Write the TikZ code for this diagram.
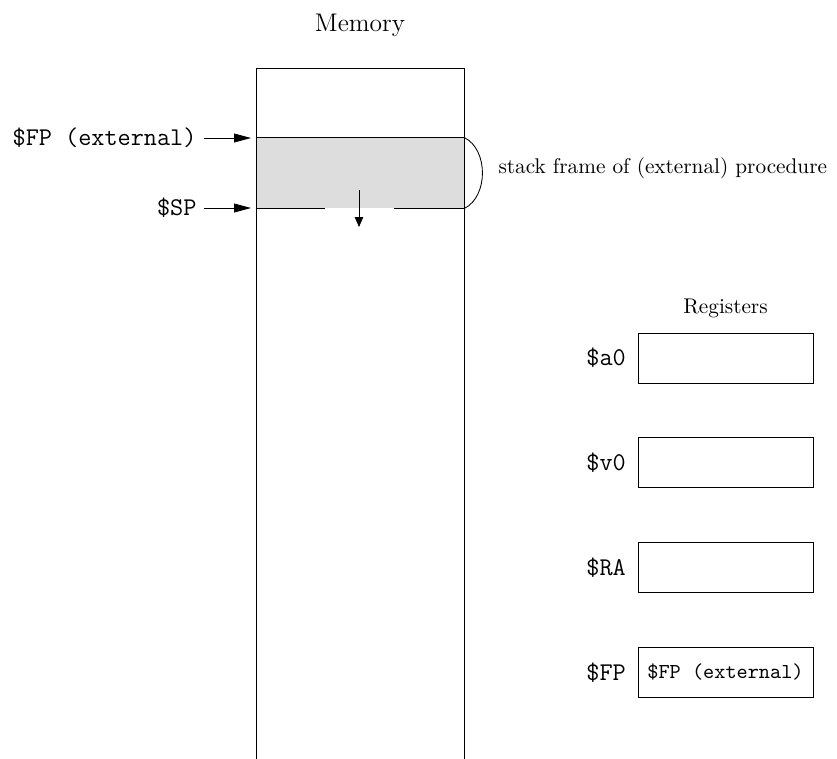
\documentclass[tikz,border=0pt]{standalone}
\usepackage{tikz}
\usetikzlibrary{arrows.meta, positioning}

\begin{document}
\begin{tikzpicture}[
    x=0.4706pt, y=-0.4706pt,
    node distance=25.4pt,
    reg/.style={draw, minimum width=82.4pt, minimum height=23.5pt, inner sep=0pt, font=\ttfamily},
    regname/.style={font=\large\ttfamily},
    ptr/.style={-{Triangle[length=8pt, width=4.2pt]}},
    growarr/.style={-{Triangle[length=4.7pt, width=4pt]}},
]
    \useasboundingbox (0,0) rectangle (837,759);

    % Memory column
    \node[font=\large] (memtitle) at (360,25) {Memory};
    \node[fill=gray!27, minimum width=97.9pt, minimum height=32.9pt, inner sep=0pt] (frame) at (360,173) {};
    \draw (256,759) -- (256,68) -- (464,68) -- (464,759);
    \draw (frame.north west) -- (frame.north east);
    \draw (frame.south west) -- ++(69,0);
    \draw (frame.south east) -- ++(-70,0);
    \coordinate (growtop) at (359,190);
    \coordinate (growend) at (359,227);
    \draw[growarr] (growtop) -- (growend);

    % Stack frame brace
    \draw (frame.north east) .. controls +(24,12) and +(24,-12) .. (frame.south east);
    \node[anchor=west] (framelabel) at (491,168) {stack frame of (external) procedure};

    % Pointers
    \node[regname, anchor=east] (fpext) at (204,138) {\$FP (external)};
    \node[regname, anchor=east] (sp) at (204,208) {\$SP};
    \coordinate (fpin) at (251,138);
    \coordinate (spin) at (251,208);
    \draw[ptr] (fpext) -- (fpin);
    \draw[ptr] (sp) -- (spin);

    % Registers
    \node[reg] (a0) at (725.5,358) {};
    \node[reg, below=of a0] (v0) {};
    \node[reg, below=of v0] (ra) {};
    \node[reg, below=of ra] (fpreg) {\$FP (external)};
    \node[above=3.6pt of a0] (regtitle) {Registers};
    \node[regname, left=2pt of a0] (a0name) {\$a0};
    \node[regname, left=2pt of v0] (v0name) {\$v0};
    \node[regname, left=2pt of ra] (raname) {\$RA};
    \node[regname, left=2pt of fpreg] (fpname) {\$FP};
\end{tikzpicture}
\end{document}
